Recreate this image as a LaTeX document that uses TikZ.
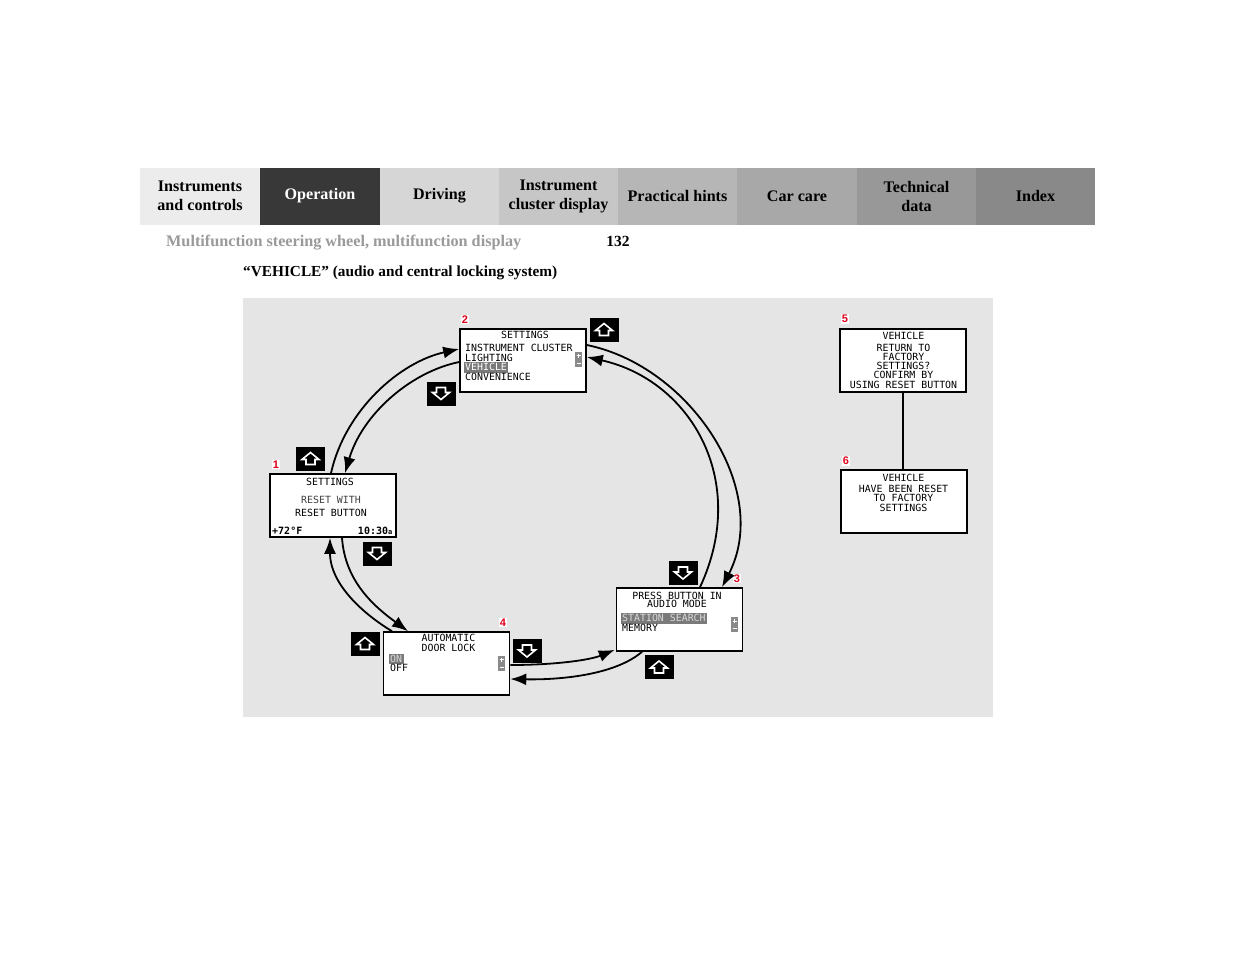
\documentclass[tikz,border=0pt]{standalone}
\usepackage{fontspec}
\setmainfont{Liberation Serif}
\newfontfamily\lcd{DejaVu Sans Mono}
\newfontfamily\numfont{Liberation Sans}
\usetikzlibrary{arrows.meta,calc}
\definecolor{panelgray}{HTML}{E5E5E5}
\definecolor{numred}{HTML}{E0001B}
\definecolor{hlgray}{HTML}{7A7A7A}
\definecolor{pmgray}{HTML}{8A8A8A}
\definecolor{subgray}{HTML}{9A9A9A}
\definecolor{tabA}{HTML}{ECECEC}
\definecolor{tabB}{HTML}{383838}
\definecolor{tabC}{HTML}{D6D6D6}
\definecolor{tabD}{HTML}{C6C6C6}
\definecolor{tabE}{HTML}{B6B6B6}
\definecolor{tabF}{HTML}{A8A8A8}
\definecolor{tabG}{HTML}{989898}
\definecolor{tabH}{HTML}{898989}
\begin{document}
\begin{tikzpicture}[x=1pt,y=-1pt,
  tab/.style={minimum width=119.5pt,minimum height=57pt,inner sep=0pt,align=center,
    font=\bfseries\fontsize{16.1}{19}\selectfont},
  screen/.style={draw,line width=1.6pt,fill=white,minimum width=126pt,minimum height=63pt,inner sep=0pt},
  lcdtxt/.style={font=\lcd\fontsize{9.9}{10}\selectfont,anchor=base,inner sep=0pt},
  lcdleft/.style={lcdtxt,anchor=base west},
  hlbox/.style={lcdleft,fill=hlgray,text=white,inner xsep=1.5pt,inner ysep=1pt,text height=7.3pt,text depth=1pt},
  numlbl/.style={fill=white,text=numred,font=\numfont\bfseries\fontsize{11}{11}\selectfont,inner sep=1pt},
  btn/.style={fill=black,minimum width=29pt,minimum height=24pt,inner sep=0pt},
  conn/.style={line width=1.8pt,-{Latex[length=16pt,width=12pt]}},
  upglyph/.pic={\draw[white,line width=1.6pt,line join=miter,fill=black]
     (0,-6) -- (8.5,1) -- (4.5,1) -- (4.5,6) -- (-4.5,6) -- (-4.5,1) -- (-8.5,1) -- cycle;},
  downglyph/.pic={\draw[white,line width=1.6pt,line join=miter,fill=black]
     (0,6) -- (8.5,-1) -- (4.5,-1) -- (4.5,-6) -- (-4.5,-6) -- (-4.5,-1) -- (-8.5,-1) -- cycle;},
  pmind/.pic={\fill[pmgray] (-3.5,-7.5) rectangle (3.5,7.5);
     \draw[white,line width=1pt] (-2,-3.5) -- (2,-3.5) (0,-5.5) -- (0,-1.5) (-2,4) -- (2,4);}
]
\useasboundingbox[fill=white] (0,0) rectangle (1235,954);

% header tabs
\node[tab,fill=tabA] (t1) at (200,196) {Instruments\\and controls};
\node[tab,fill=tabB,text=white] (t2) at (320,196) {Operation};
\node[tab,fill=tabC] (t3) at (439.5,196) {Driving};
\node[tab,fill=tabD] (t4) at (558.5,196.5) {Instrument\\cluster display};
\node[tab,fill=tabE] (t5) at (677.5,196) {Practical hints};
\node[tab,fill=tabF] (t6) at (797,196) {Car care};
\node[tab,fill=tabG] (t7) at (916.5,196) {Technical\\data};
\node[tab,fill=tabH] (t8) at (1035.5,196) {Index};

\node[anchor=base west,inner sep=0pt,text=subgray,font=\bfseries\fontsize{16.2}{18}\selectfont] (sub) at (166,246) {Multifunction steering wheel, multifunction display};
\node[anchor=base,inner sep=0pt,font=\bfseries\fontsize{15.5}{18}\selectfont] (pg) at (618,246) {132};
\node[anchor=base west,inner sep=0pt,font=\bfseries\fontsize{15.3}{18}\selectfont] (title) at (243,276) {“VEHICLE” (audio and central locking system)};

% panel
\fill[panelgray] (243,298) rectangle (993,717);

% screens
\node[screen] (s1) at (333,505.5) {};
\node[screen] (s2) at (523,360.5) {};
\node[screen] (s3) at (679.5,619.5) {};
\node[screen] (s4) at (446.5,663.5) {};
\node[screen] (s5) at (902.7,360.5) {};
\node[screen] (s6) at (903.9,501.3) {};

% screen 2
\node[lcdtxt] (s2a) at (525,338.5) {SETTINGS};
\node[lcdleft] (s2b) at (465,351.7) {INSTRUMENT CLUSTER};
\node[lcdleft] (s2c) at (465,361.2) {LIGHTING};
\node[hlbox] (s2d) at (463.5,370.7) {VEHICLE};
\node[lcdleft] (s2e) at (465,380.2) {CONVENIENCE};
\pic at (578.5,359) {pmind};

% screen 1
\node[lcdtxt] (s1a) at (330,485) {SETTINGS};
\node[lcdtxt,text=black!75] (s1b) at (331,503.3) {RESET WITH};
\node[lcdtxt] (s1c) at (331,516) {RESET BUTTON};
\node[lcdleft,font=\lcd\bfseries\fontsize{10}{10}\selectfont] (s1d) at (272,534) {+72°F};
\node[lcdtxt,anchor=base east,font=\lcd\bfseries\fontsize{10}{10}\selectfont] (s1e) at (392.5,534) {10:30{\fontsize{7}{7}\selectfont a}};

% screen 3
\node[lcdtxt] (s3a) at (677,599) {PRESS BUTTON IN};
\node[lcdtxt] (s3b) at (677,607.7) {AUDIO MODE};
\node[hlbox,text=white!85!black] (s3c) at (620.5,621.7) {STATION SEARCH};
\node[lcdleft] (s3d) at (622,631) {MEMORY};
\pic at (734.5,624.5) {pmind};

% screen 4
\node[lcdtxt] (s4a) at (448.5,641.7) {AUTOMATIC};
\node[lcdtxt] (s4b) at (448.5,651.7) {DOOR LOCK};
\node[hlbox,text=white!85!black] (s4c) at (388.5,662.3) {ON};
\node[lcdleft] (s4d) at (390,671.7) {OFF};
\pic at (501.5,663) {pmind};

% screen 5
\node[lcdtxt] (s5a) at (903.5,339) {VEHICLE};
\node[lcdtxt] (s5b) at (903.5,351) {RETURN TO};
\node[lcdtxt] (s5c) at (903.5,360.3) {FACTORY};
\node[lcdtxt] (s5d) at (903.5,369.6) {SETTINGS?};
\node[lcdtxt] (s5e) at (903.5,378.9) {CONFIRM BY};
\node[lcdtxt] (s5f) at (903.5,388.2) {USING RESET BUTTON};

% screen 6
\node[lcdtxt] (s6a) at (903.5,481) {VEHICLE};
\node[lcdtxt] (s6b) at (903.5,492.3) {HAVE BEEN RESET};
\node[lcdtxt] (s6c) at (903.5,501.7) {TO FACTORY};
\node[lcdtxt] (s6d) at (903.5,511) {SETTINGS};

% number labels
\node[numlbl] (n1) at (276,464.5) {1};
\node[numlbl] (n2) at (465,319.5) {2};
\node[numlbl] (n3) at (737,578.5) {3};
\node[numlbl] (n4) at (503,622.5) {4};
\node[numlbl] (n5) at (845,319) {5};
\node[numlbl] (n6) at (846,461) {6};

% buttons
\node[btn] (b1) at (604,329.5) {}; \pic at (b1.center) {upglyph};
\node[btn] (b2) at (441,393.5) {}; \pic at (b2.center) {downglyph};
\node[btn] (b3) at (310.5,458.5) {}; \pic at (b3.center) {upglyph};
\node[btn] (b4) at (377,553.5) {}; \pic at (b4.center) {downglyph};
\node[btn] (b5) at (683,573) {}; \pic at (b5.center) {downglyph};
\node[btn] (b6) at (365,643.5) {}; \pic at (b6.center) {upglyph};
\node[btn] (b7) at (527,651) {}; \pic at (b7.center) {downglyph};
\node[btn] (b8) at (659,667) {}; \pic at (b8.center) {upglyph};

% connectors
\draw[conn] ($(s1.north)+(-2,0)$) .. controls (345,410) and (400,362) .. ($(s2.west)+(0,-11.5)$);
\draw[conn] ($(s2.west)+(0,1.5)$) .. controls (410,372) and (362,415) .. ($(s1.north)+(12,0)$);
\draw[conn] ($(s2.east)+(0,-15.5)$) .. controls (690,366) and (772,490) .. ($(s3.north)+(42.5,0)$);
\draw[conn] ($(s3.north)+(20.5,0)$) .. controls (750,480) and (690,380) .. ($(s2.east)+(0,-3.5)$);
\draw[conn] ($(s1.south)+(9,0)$) .. controls (345,582) and (375,607) .. ($(s4.north)+(-38.5,0)$);
\draw[conn] ($(s4.north)+(-54.5,0)$) .. controls (365,615) and (330,585) .. ($(s1.south)+(-3,0)$);
\draw[conn] ($(s4.east)+(0,1.5)$) .. controls (555,665) and (590,660) .. ($(s3.south west)+(-1,-2)$);
\draw[conn] ($(s3.south)+(-37.5,0)$) .. controls (615,675) and (560,680) .. ($(s4.east)+(0,15.5)$);
\draw[line width=2pt] (s5.south) -- (s5.south |- s6.north);
\end{tikzpicture}
\end{document}
